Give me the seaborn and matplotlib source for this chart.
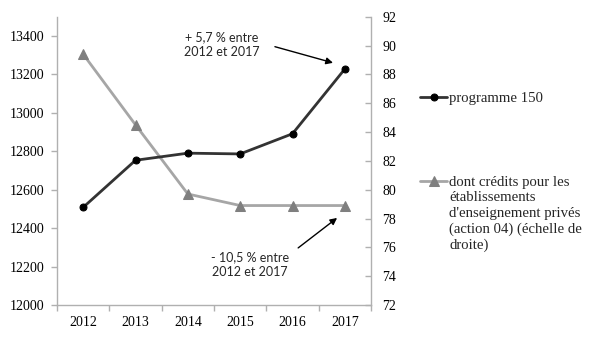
import numpy as np
import pandas as pd
import matplotlib
matplotlib.use("Agg")
import matplotlib.pyplot as plt
import seaborn as sns
from matplotlib.ticker import FixedLocator

years = ["2012", "2013", "2014", "2015", "2016", "2017"]
programme_150 = [12508, 12753, 12790, 12786, 12891, 13228]
credits_prives = [89.4, 84.5, 79.7, 78.9, 78.9, 78.9]
left_ticks = [12000, 12200, 12400, 12600, 12800, 13000, 13200, 13400]
right_ticks = [72, 74, 76, 78, 80, 82, 84, 86, 88, 90, 92]
label_1 = "programme 150"
label_2_first = "dont crédits pour les"
label_2_rest = "établissements\nd'enseignement privés\n(action 04) (échelle de\ndroite)"
note_up = "+ 5,7 % entre\n2012 et 2017"
note_down = "- 10,5 % entre\n2012 et 2017"

sns.set_theme(style="white")
serif = ["Liberation Serif", "DejaVu Serif"]
sans = ["Lato", "DejaVu Sans"]
plt.rcParams["font.family"] = serif

df = pd.DataFrame({"pos": np.arange(len(years)), "prog": programme_150, "cred": credits_prives})

fig = plt.figure(figsize=(5.97, 3.37), dpi=100)
ax = fig.add_axes([57/597, 1-305/337, (371-57)/597, (305-16.7)/337])
ax2 = ax.twinx()

spine_col = "#b0b0b0"
fs = 10
lfs = 10.6

sns.lineplot(data=df, x="pos", y="cred", ax=ax2, color="#a6a6a6", lw=2.0,
             marker="^", markersize=7.5, markerfacecolor="#7f7f7f",
             markeredgecolor="#7f7f7f", label=label_2_first, legend=False)
sns.lineplot(data=df, x="pos", y="prog", ax=ax, color="#333333", lw=2.0,
             marker="o", markersize=5, markerfacecolor="black",
             markeredgecolor="black", label=label_1, legend=False)
ax.set_zorder(ax2.get_zorder() + 1)
ax.patch.set_visible(False)

ax.set_xlim(-0.5, len(years) - 0.5)
ax.set_ylim(12000, 13500)
ax2.set_ylim(72, 92)
ax.set_xticks(np.arange(len(years)))
ax.set_xticklabels(years)
ax.xaxis.set_minor_locator(FixedLocator(np.arange(len(years) + 1) - 0.5))
ax.set_yticks(left_ticks)
ax2.set_yticks(right_ticks)
ax.set_xlabel("")
ax.set_ylabel("")
ax2.set_ylabel("")

for a in (ax, ax2):
    for s in a.spines.values():
        s.set_visible(False)
ax.spines["left"].set_visible(True)
ax.spines["bottom"].set_visible(True)
ax2.spines["right"].set_visible(True)
for s in (ax.spines["left"], ax.spines["bottom"], ax2.spines["right"]):
    s.set_color(spine_col)
    s.set_linewidth(1.0)

ax.tick_params(axis="y", which="major", direction="out", length=4, width=1,
               color=spine_col, pad=5, labelsize=fs, left=True)
ax.tick_params(axis="x", which="major", length=0, pad=8, labelsize=fs, bottom=True)
ax.tick_params(axis="x", which="minor", direction="out", length=4, width=1,
               color=spine_col, bottom=True)
ax2.tick_params(axis="y", which="major", direction="in", length=4, width=1,
                color=spine_col, pad=8, labelsize=fs, right=True)
for lab in ax.get_xticklabels() + ax.get_yticklabels() + ax2.get_yticklabels():
    lab.set_family(serif)
    lab.set_color("black")

# annotations: text + separate arrow
ax.text(0.525, 0.904, note_up, transform=ax.transAxes, ha="center", va="center",
        fontsize=9.0, family=sans, linespacing=1.3)
ax.text(0.615, 0.140, note_down, transform=ax.transAxes, ha="center", va="center",
        fontsize=9.0, family=sans, linespacing=1.3)
arrow_kw = dict(arrowstyle="-|>", color="black", lw=1.0, mutation_scale=10,
                shrinkA=0, shrinkB=0)
ax.annotate("", xy=(0.879, 0.840), xycoords="axes fraction",
            xytext=(0.694, 0.896), textcoords="axes fraction",
            arrowprops=arrow_kw, annotation_clip=False)
ax.annotate("", xy=(0.892, 0.302), xycoords="axes fraction",
            xytext=(0.768, 0.198), textcoords="axes fraction",
            arrowprops=arrow_kw, annotation_clip=False)

h1 = ax.get_lines()[0]
h2 = ax2.get_lines()[0]
leg1 = fig.legend([h1], [label_1], loc="center left",
                  bbox_to_anchor=(420/597, 1-98/337), frameon=False,
                  borderpad=0, borderaxespad=0, handlelength=1.85,
                  handletextpad=0.15, prop={"family": serif, "size": lfs})
leg2 = fig.legend([h2], [label_2_first], loc="center left",
                  bbox_to_anchor=(420/597, 1-182/337), frameon=False,
                  borderpad=0, borderaxespad=0, handlelength=1.85,
                  handletextpad=0.15, prop={"family": serif, "size": lfs})
fig.text(449/597, 1-191/337, label_2_rest, ha="left", va="top",
         fontsize=lfs, family=serif, linespacing=1.25)
fig.text(0, 0, "")

fig.savefig("out.png", dpi=100)
